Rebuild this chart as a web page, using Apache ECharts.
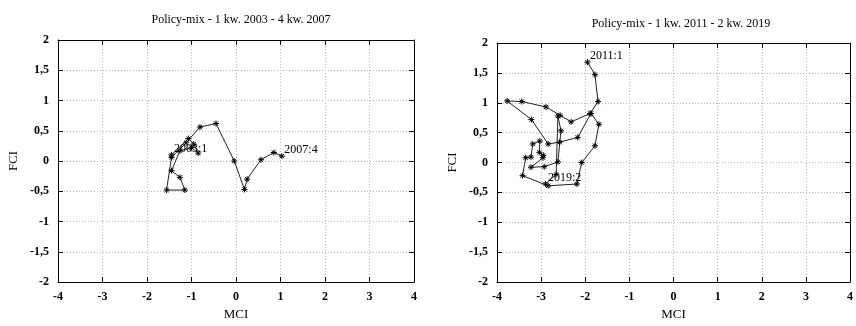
<!DOCTYPE html>
<html>
<head>
<meta charset="utf-8">
<script src="https://cdn.jsdelivr.net/npm/echarts@6/dist/echarts.min.js"></script>
<style>
  html, body { margin: 0; padding: 0; background: #fff; }
  #chart { width: 856px; height: 326px; }
</style>
</head>
<body>
<div id="chart"></div>
<script>
// Policy-mix trajectories: monetary conditions (MCI) vs fiscal conditions (FCI)
const titles = ['Policy-mix - 1 kw. 2003 - 4 kw. 2007', 'Policy-mix - 1 kw. 2011 - 2 kw. 2019'];

// 2003:1 .. 2007:4
const mci2003 = [-1.45, -1.07, -0.95, -0.85, -1.00, -1.26, -1.45, -1.26, -1.15, -1.56,
                 -1.45, -1.12, -0.81, -0.45, -0.04, 0.19, 0.25, 0.56, 0.85, 1.03];
const fci2003 = [0.10, 0.37, 0.28, 0.13, 0.22, 0.17, -0.16, -0.27, -0.48, -0.48,
                 0.06, 0.30, 0.56, 0.62, 0.00, -0.47, -0.30, 0.02, 0.14, 0.08];
const ends2003 = ['2003:1', '2007:4'];

// 2011:1 .. 2019:2
const mci2011 = [-1.95, -1.78, -1.71, -1.89, -2.32, -2.57, -2.89, -3.44, -3.77, -3.22,
                 -2.84, -2.58, -2.17, -1.87, -1.69, -1.78, -2.08, -2.19, -2.84, -3.42,
                 -3.35, -3.23, -3.19, -3.03, -3.04, -2.95, -2.96, -3.23, -2.93, -2.62,
                 -2.55, -2.62, -2.66, -2.90];
const fci2011 = [1.68, 1.47, 1.02, 0.82, 0.68, 0.79, 0.93, 1.02, 1.03, 0.72,
                 0.31, 0.34, 0.42, 0.82, 0.64, 0.28, 0.00, -0.36, -0.39, -0.22,
                 0.08, 0.09, 0.31, 0.36, 0.17, 0.12, 0.08, -0.08, -0.07, 0.01,
                 0.53, 0.78, -0.20, -0.36];
const ends2011 = ['2011:1', '2019:2'];

const xTicks = [-4, -3, -2, -1, 0, 1, 2, 3, 4];
const yTicks = [-2, -1.5, -1, -0.5, 0, 0.5, 1, 1.5, 2];

const FONT = '"Liberation Serif", "DejaVu Serif", serif';
const asterisk = 'path://M-1,0L1,0M0,-1L0,1M-0.7,-0.7L0.7,0.7M-0.7,0.7L0.7,-0.7';

const grids = [
  { left: 58, top: 40, width: 356, height: 243 },
  { left: 497, top: 43, width: 357, height: 240 }
];

function fmtY(v) { return String(v).replace('.', ','); }

const xAxes = [], yAxes = [], series = [];
const sets = [[mci2003, fci2003, ends2003], [mci2011, fci2011, ends2011]];
const frameLine = { show: true, onZero: false, lineStyle: { color: '#000', width: 1 } };

grids.forEach((g, i) => {
  const xMin = xTicks[0], xMax = xTicks[xTicks.length - 1];
  const yMin = yTicks[0], yMax = yTicks[yTicks.length - 1];
  const tick = { show: true, inside: true, length: 5, lineStyle: { color: '#000', width: 1 } };
  const gridLine = { show: true, lineStyle: { color: '#b8b8b8', type: [1, 2], width: 1 } };
  xAxes.push({
    gridIndex: i, type: 'value', min: xMin, max: xMax, interval: 1, position: 'bottom',
    name: 'MCI', nameLocation: 'middle', nameGap: 26,
    nameTextStyle: { fontFamily: FONT, fontSize: 13, color: '#000' },
    axisLine: frameLine, axisTick: tick, splitLine: gridLine,
    axisLabel: { fontFamily: FONT, fontSize: 12, color: '#000', margin: 9, fontWeight: 'bold' }
  });
  xAxes.push({
    gridIndex: i, type: 'value', min: xMin, max: xMax, interval: 1, position: 'top',
    axisLine: frameLine, axisTick: tick, splitLine: { show: false }, axisLabel: { show: false }
  });
  yAxes.push({
    gridIndex: i, type: 'value', min: yMin, max: yMax, interval: 0.5, position: 'left',
    name: 'FCI', nameLocation: 'middle', nameGap: 38, nameRotate: 90,
    nameTextStyle: { fontFamily: FONT, fontSize: 13, color: '#000' },
    axisLine: frameLine, axisTick: tick, splitLine: gridLine,
    axisLabel: { fontFamily: FONT, fontSize: 12, color: '#000', margin: 9, fontWeight: 'bold',
                 formatter: fmtY }
  });
  yAxes.push({
    gridIndex: i, type: 'value', min: yMin, max: yMax, interval: 0.5, position: 'right',
    axisLine: frameLine, axisTick: tick, splitLine: { show: false }, axisLabel: { show: false }
  });

  const [xs, ys, ends] = sets[i];
  const last = xs.length - 1;
  const data = xs.map((x, k) => {
    const item = { value: [x, ys[k]] };
    if (k === 0 || k === last) {
      item.label = {
        show: true, position: 'right', distance: -3, offset: [0, -6],
        formatter: k === 0 ? ends[0] : ends[1],
        fontFamily: FONT, fontSize: 12, color: '#000'
      };
    }
    return item;
  });
  series.push({
    type: 'line', xAxisIndex: i * 2, yAxisIndex: i * 2, data: data,
    symbol: asterisk, symbolSize: 6, showAllSymbol: true,
    lineStyle: { color: '#222', width: 1 },
    itemStyle: { color: 'none', borderColor: '#000', borderWidth: 1 },
    emphasis: { disabled: true }, animation: false, z: 5
  });
});

const chart = echarts.init(document.getElementById('chart'));
chart.setOption({
  animation: false,
  backgroundColor: '#fff',
  title: [
    { text: titles[0], left: 236, top: 9, textAlign: 'center',
      textStyle: { fontFamily: FONT, fontSize: 12, fontWeight: 'normal', color: '#000' } },
    { text: titles[1], left: 676, top: 13, textAlign: 'center',
      textStyle: { fontFamily: FONT, fontSize: 12, fontWeight: 'normal', color: '#000' } }
  ],
  grid: grids,
  xAxis: xAxes,
  yAxis: yAxes,
  series: series
});
</script>
</body>
</html>
